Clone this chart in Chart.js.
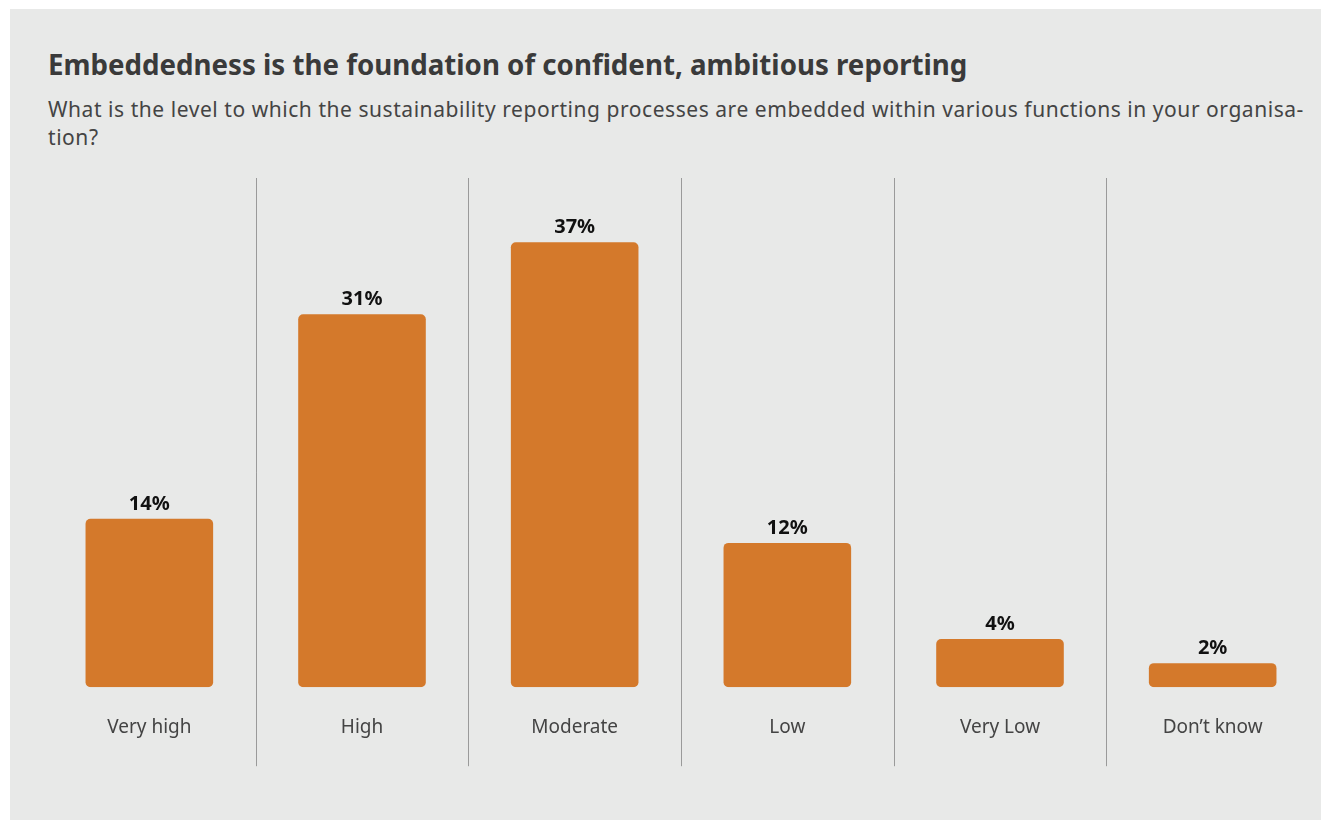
<!DOCTYPE html>
<html>
<head>
<meta charset="utf-8">
<script src="https://cdn.jsdelivr.net/npm/chart.js@4"></script>
<style>
  html, body { margin: 0; padding: 0; background: #fff; }
  .panel {
    position: absolute; left: 10px; top: 9px; width: 1311px; height: 811px;
    background: #e8e9e8; font-family: "Noto Sans", sans-serif;
  }
  h1 {
    position: absolute; left: 38px; top: 36px; margin: 0;
    font-size: 27.7px; font-weight: 700; color: #3a3a3a; white-space: nowrap;
  }
  .sub {
    position: absolute; left: 38px; top: 86px; margin: 0;
    font-size: 21px; line-height: 28px; letter-spacing: 0.55px; color: #444; white-space: nowrap;
  }
  .wrap { position: absolute; left: 0; top: 137px; width: 1311px; height: 654px; }
</style>
</head>
<body>
<div class="panel">
  <h1>Embeddedness is the foundation of confident, ambitious reporting</h1>
  <p class="sub">What is the level to which the sustainability reporting processes are embedded within various functions in your organisa-<br>tion?</p>
  <div class="wrap"><canvas id="myChart" width="1311" height="654"></canvas></div>
</div>
<script>
const categories = ['Very high', 'High', 'Moderate', 'Low', 'Very Low', 'Don\u2019t know'];
const shares = [14, 31, 37, 12, 4, 2];

// value labels above each bar
const valueLabels = {
  id: 'valueLabels',
  afterDatasetsDraw(chart) {
    const ctx = chart.ctx;
    ctx.save();
    ctx.font = 'bold 20px "Noto Sans", sans-serif';
    ctx.fillStyle = '#111';
    ctx.textAlign = 'center';
    ctx.textBaseline = 'middle';
    chart.getDatasetMeta(0).data.forEach((bar, i) => {
      ctx.fillText(shares[i] + '%', bar.x, bar.y - 15);
    });
    ctx.restore();
  }
};

// thin rules between the categories
const separators = {
  id: 'separators',
  beforeDatasetsDraw(chart) {
    const x = chart.scales.x, area = chart.chartArea, ctx = chart.ctx;
    ctx.save();
    ctx.strokeStyle = '#9a9a9a';
    ctx.lineWidth = 1;
    for (let i = 1; i < categories.length; i++) {
      const px = Math.round((x.getPixelForTick(i - 1) + x.getPixelForTick(i)) / 2) + 0.5;
      ctx.beginPath();
      ctx.moveTo(px, area.top + 32);
      ctx.lineTo(px, area.bottom + 79);
      ctx.stroke();
    }
    ctx.restore();
  }
};

new Chart(document.getElementById('myChart'), {
  type: 'bar',
  data: {
    labels: categories,
    datasets: [{
      data: shares,
      backgroundColor: '#d4792b',
      borderRadius: 5,
      borderSkipped: false,
      barPercentage: 0.6,
      categoryPercentage: 1
    }]
  },
  options: {
    responsive: false,
    animation: false,
    layout: { padding: { left: 33, right: 2, top: 0, bottom: 32 } },
    plugins: { legend: { display: false }, tooltip: { enabled: false } },
    scales: {
      x: {
        grid: { display: false, drawTicks: false },
        border: { display: false },
        ticks: { color: '#444', font: { family: '"Noto Sans", sans-serif', size: 19 }, padding: 29 }
      },
      y: { display: false, min: 0, max: 45 }
    }
  },
  plugins: [separators, valueLabels]
});
</script>
</body>
</html>
